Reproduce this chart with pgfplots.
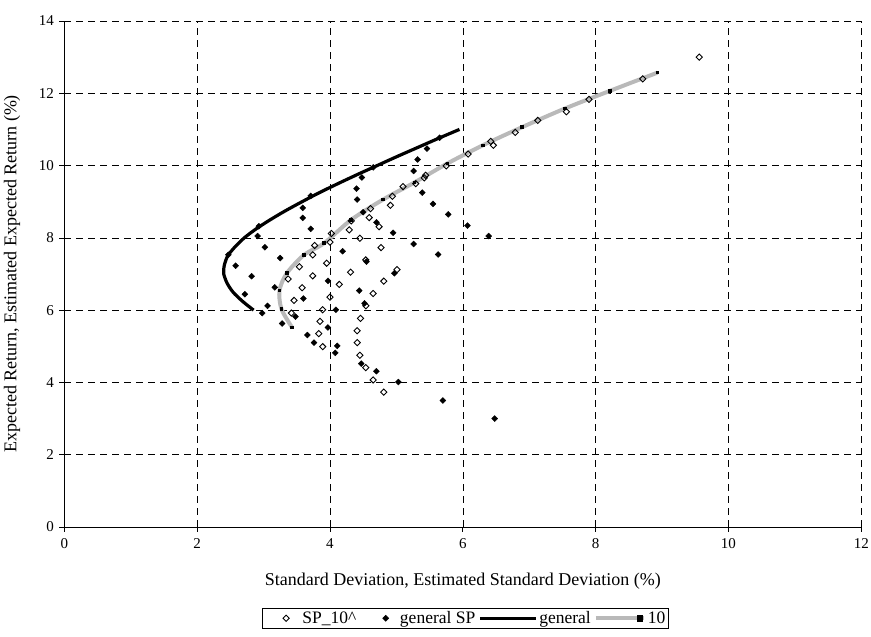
\documentclass[border=0pt]{standalone}
\usepackage{pgfplots}
\pgfplotsset{compat=1.18}
\usepackage{fontspec}
\setmainfont{Liberation Serif}
\begin{document}
\begin{tikzpicture}
\begin{axis}[
  name=ax,
  scale only axis, width=797pt, height=506pt,
  xmin=0, xmax=12, ymin=0, ymax=14,
  xtick={0,2,...,12}, ytick={0,2,...,14},
  axis x line*=bottom, axis y line*=left,
  axis line style={black, line width=0.7pt, -},
  tick align=outside, major tick length=5pt,
  tick style={black, line width=0.7pt},
  grid=major,
  major grid style={black, line width=0.6pt, dash pattern=on 7pt off 5pt},
  /pgf/number format/assume math mode=true,
  tick label style={font=\fontsize{15}{17}\selectfont},
  xticklabel style={yshift=-3pt},
  yticklabel style={xshift=-2pt},
  label style={font=\fontsize{18}{20}\selectfont},
  xlabel={Standard Deviation, Estimated Standard Deviation (\%)},
  ylabel={Expected Return, Estimated Expected Return (\%)},
  xlabel style={at={(axis description cs:0.5,-0.083)}, anchor=north},
  ylabel style={at={(axis description cs:-0.0656,0.5)}, anchor=center},
  legend style={at={(axis description cs:0.5035,-0.160)}, anchor=north,
    draw=black, line width=0.6pt, font=\fontsize{17.5}{18}\selectfont,
    legend columns=4, inner sep=1.2pt,
    /tikz/every even column/.append style={column sep=1pt}},
]
\addplot[only marks, mark=square, mark size=2.2pt, mark options={black, fill=white, line width=0.9pt, rotate=45},
  legend image code/.code={\draw[black, fill=white, line width=0.9pt] plot[mark=square, mark size=2.2pt, mark options={rotate=45}] coordinates {(22pt,0pt)}; \path (0pt,0pt) (36pt,0pt);}]
coordinates {
(9.56,13.00) (8.71,12.40) (7.90,11.83) (7.56,11.49) (7.13,11.25) (6.79,10.92)
(6.46,10.56) (6.42,10.67) (6.08,10.32) (5.75,9.99) (5.44,9.73) (5.42,9.66)
(5.29,9.50) (5.10,9.42) (4.94,9.15) (4.91,8.90) (4.61,8.81) (4.59,8.56)
(4.74,8.31) (4.32,8.47) (4.29,8.22) (4.02,8.12) (4.00,7.88) (4.45,7.99)
(4.77,7.73) (3.77,7.79) (3.74,7.53) (3.95,7.30) (3.54,7.20) (4.54,7.39)
(5.01,7.12) (4.31,7.05) (3.74,6.95) (3.37,6.86) (4.81,6.80) (4.14,6.71)
(3.58,6.62) (4.65,6.46) (4.00,6.36) (3.46,6.27) (4.54,6.12) (3.89,6.01)
(3.42,5.92) (4.46,5.77) (3.85,5.69) (4.41,5.43) (3.83,5.35) (4.41,5.10)
(3.89,4.99) (4.45,4.75) (4.54,4.41) (4.65,4.07) (4.81,3.73)
};
\addlegendentry{SP\_10\textasciicircum}
\addplot[only marks, mark=square*, mark size=2.1pt, mark options={black, fill=black, rotate=45},
  legend image code/.code={\fill[black] plot[mark=square*, mark size=2.1pt, mark options={rotate=45}] coordinates {(26pt,0pt)}; \path (0pt,0pt) (38pt,0pt);}]
coordinates {
(6.48,3.00) (5.70,3.50) (6.39,8.05) (6.07,8.34) (5.78,8.65) (5.55,8.94)
(5.39,9.25) (5.65,10.77) (5.46,10.47) (5.32,10.17) (5.26,9.85)
(4.65,9.95) (4.48,9.67) (4.40,9.36) (4.41,9.06) (4.50,8.71)
(4.70,8.43) (4.95,8.14) (5.26,7.83) (5.63,7.54) (4.19,7.63) (4.55,7.34)
(4.97,7.02) (4.44,6.54) (4.52,6.19) (3.71,9.16) (3.59,8.83) (3.59,8.55)
(3.71,8.25) (2.93,8.32) (2.91,8.05) (3.02,7.74) (2.47,7.53) (3.25,7.44)
(2.58,7.23) (2.82,6.94) (2.72,6.44) (3.17,6.63) (3.97,6.81) (3.60,6.32)
(3.06,6.12) (2.98,5.92) (3.28,5.63) (3.48,5.82) (3.66,5.31) (3.76,5.10)
(3.97,5.52) (4.09,6.01) (4.11,5.01) (4.08,4.82) (4.47,4.52) (4.70,4.31)
(5.03,4.01)
};
\addlegendentry{general SP}
\addplot[black, line width=3.2pt, smooth, no marks,
  legend image code/.code={\draw[black, line width=3pt] (0pt,0pt) -- (56pt,0pt);}]
coordinates {
(2.85,6.00) (2.68,6.25) (2.54,6.50) (2.45,6.75) (2.40,7.00) (2.40,7.10)
(2.41,7.25) (2.46,7.50) (2.57,7.75) (2.71,8.00) (2.89,8.25) (3.10,8.50)
(3.33,8.75) (3.58,9.00) (3.84,9.25) (4.12,9.50) (4.41,9.75) (4.71,10.00)
(5.01,10.25) (5.32,10.50) (5.63,10.75) (5.95,11.00)
};
\addlegendentry{general}
\addplot[gray!55, line width=4pt, smooth, mark=square*, mark size=1.3pt,
  mark options={black, fill=black, line width=0pt},
  legend image code/.code={\draw[gray!55, line width=4pt] (0pt,0pt) -- (48pt,0pt); \fill[black] (44pt,0pt) +(-1.3pt,-1.3pt) rectangle +(1.3pt,1.3pt);}]
coordinates {
(3.43,5.52) (3.27,6.03) (3.24,6.54) (3.35,7.02) (3.61,7.53) (3.91,7.85)
(4.32,8.50) (4.80,9.06) (5.27,9.53) (5.77,10.06) (6.30,10.56) (6.89,11.06)
(7.54,11.58) (8.22,12.07) (8.93,12.57)
};
\addlegendentry{10}
\end{axis}
\pgfresetboundingbox
\path ([xshift=-64.3pt,yshift=-110pt]ax.south west) rectangle ([xshift=9.7pt,yshift=21pt]ax.north east);
\end{tikzpicture}
\end{document}
